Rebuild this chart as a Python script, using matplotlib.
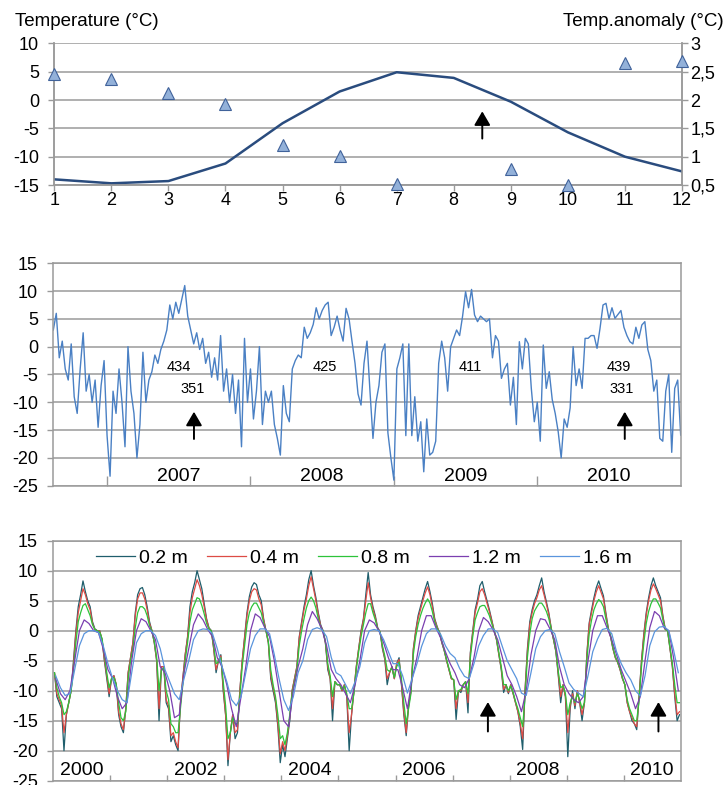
import numpy as np
import matplotlib
matplotlib.use('Agg')
import matplotlib.pyplot as plt
from matplotlib.ticker import FuncFormatter

plt.rcParams['font.family'] = ['Liberation Sans', 'DejaVu Sans']
plt.rcParams['axes.unicode_minus'] = False

# ---------------- data ----------------
# top: monthly mean temperature and temperature anomaly
months = list(range(1, 13))
mean_temp = [-14.0, -14.7, -14.3, -11.2, -4.1, 1.5, 4.9, 3.9, -0.3, -5.7, -10.0, -12.6]
anomaly = [2.46, 2.37, 2.13, 1.93, 1.20, 1.02, 0.52, np.nan, 0.78, 0.50, 2.65, 2.69]

# middle: air temperature, one value per 1/48 year from 2006.625 to 2011.0
air_start = 2006.625
air_temp = [
    # 2006 (from mid-August)
    3, 6, -2, 1, -4, -6, 0.5, -9, -12, -4, 2.5, -8, -5, -10, -6, -14.5, -7, -2.5,
    # 2007
    -16, -23.3, -8, -12, -4, -10, -18, 0, -8, -12, -20, -14, -1, -10, -6, -4.5,
    -1.5, -3, -0.5, 1, 3, 7.5, 5, 8, 6, 8.5, 11, 5.5, 3, 0.5, 2.5, -0.5,
    1.5, -3, -1, -5.5, -2, -6, 2, -8, -4, -10, -5, -12, -6, -18, 1.5, -10,
    # 2008
    -4, -13, -8, 0, -14, -8, -10, -8, -14, -16.5, -19.5, -7, -12, -13.5, -4, -2.5,
    -1.5, -2, 3.5, 1.5, 2.5, 4, 7, 5, 6.5, 7.5, 8, 2, 3.5, 5.5, 3, 1,
    6.9, 5, 0.9, -3, -8.5, -10.5, -3, 1, -8, -16.5, -10, -7, -1, 0.5, -15.5, -20,
    # 2009
    -24, -4, -2, 0.5, -16, 0.5, -16, -9, -17, -13.5, -22.5, -13, -19.5, -19, -17, -3,
    1, -2, -8, 0, 1.5, 3, 2, 5.5, 9.9, 7, 10.3, 5.7, 4.5, 5.5, 5, 4.5,
    5, -2, 2, 1, -5.7, -4, -3, -10.5, -5.5, -14, 0.9, -4, 1.5, 0.5, -7.5, -13.5,
    # 2010
    -10, -17, 0.3, -7.5, -4.5, -9.5, -12, -15.3, -20, -13, -14.5, -11, 0, -7, -4, -7.5,
    1.5, 1.5, 2, 2, -0.3, 3.3, 7.5, 7.8, 5, 7, 5.1, 5.8, 6.5, 3.5, 2, 0.9,
    0.5, 3.5, 1.5, 3.9, 4.5, -0.5, -2.5, -8, -6, -16.5, -17, -8, -5, -19, -7.5, -6,
    -15.9,
]
air_labels_top = [(2007.50, '434'), (2008.515, '425'), (2009.53, '411'), (2010.57, '439')]
air_labels_low = [(2007.60, '351'), (2010.59, '331')]
air_years = [2007, 2008, 2009, 2010]

# bottom: ground temperature 2000-2010, rows = years
# 0.2, 0.4, 0.8 m: 24 values per year ; 1.2, 1.6 m: 12 values per year
depth_02 = [
    [-7, -11, -12, -13, -20, -14, -12, -10, -5, 0, 4, 6, 8.3, 6.5, 5, 4, 1.5, 0.3, 0, 0, -1.5, -5, -8, -11],
    [-8, -7.5, -9, -14, -16, -17, -13, -7, -4.5, -2, 3, 6, 7, 7.2, 6, 4, 1.5, 0, -2, -5, -15, -6, -6, -12],
    [-13, -18.5, -17.5, -19, -20, -12, -8, -4, -1, 4, 6.5, 8, 10, 8.5, 7, 4.5, 2, 0.5, 0, -3, -7, -5, -4, -10],
    [-14, -22.5, -17, -14, -18, -17, -10, -5, -1, 3, 5.7, 7.3, 8, 7.7, 6, 5, 2, 0, -2, -8, -10, -12, -16, -22],
    [-19, -21, -18, -15, -10, -8, -6, -1, 1.5, 4, 6, 8.5, 10, 7.5, 5.5, 3, 1, 0, -2, -6.5, -8, -15, -8.5, -9],
    [-9, -10, -9, -11, -20, -14, -10, -6, -3, 0, 2, 6, 9.7, 6, 4, 2.5, 0.5, -0.2, -3, -4.8, -9, -7, -6, -8],
    [-5.5, -4.5, -9, -14, -17.5, -12.5, -10, -3, 0, 2.5, 4, 5.5, 7, 8.2, 6.5, 4.5, 2, 0.7, -0.3, -2, -3.3, -5, -6.5, -8],
    [-8.2, -14.8, -10, -10.3, -9, -8.5, -13.7, -3.6, 0, 3.5, 5.2, 7.5, 8.2, 6.5, 5, 3.5, 1.8, 0, -1.5, -4, -6.5, -10.3, -9, -10.5],
    [-9, -10.5, -12, -13.5, -16, -19.8, -10, -3, 1.5, 3.5, 5, 6, 7.5, 8.8, 6.5, 4.8, 3, 0.5, -1.5, -3.5, -7.5, -12, -9, -11],
    [-21, -13, -10, -13, -10, -12, -15, -12, -4, 1.3, 3.5, 5.5, 7.2, 8.3, 7, 5.8, 3, 0.5, -1, -3, -4.5, -5.3, -6.5, -8],
    [-9, -12, -13.5, -15, -15.5, -16.5, -11, -5, -0.5, 3, 5.5, 7.5, 8.8, 7.5, 6.5, 5.5, 2.5, 0.3, 0, -3, -6, -11, -15, -14],
]
depth_04 = [
    [-7, -10.5, -11.5, -12.5, -17, -14, -12, -10, -5.5, -0.5, 3, 5, 7, 6, 4.5, 3.5, 1.2, 0.2, 0, 0, -1.5, -4.8, -7.5, -10.5],
    [-8, -7.5, -9, -13.5, -15.5, -16.5, -13, -7, -4.5, -2, 2.5, 5.3, 6.3, 6.3, 5.3, 3.5, 1.2, 0, -2, -5, -13, -6, -6, -11.5],
    [-12.5, -17.5, -17, -18.5, -19.5, -12, -8, -4, -1.2, 3, 5.5, 7, 8.5, 7.5, 6, 4, 1.8, 0.4, 0, -3, -6.5, -5, -4.2, -9.5],
    [-14, -21.5, -17, -14, -17, -16.5, -10, -5, -1.2, 2.5, 5, 6.5, 7, 6.8, 5.3, 4.3, 1.8, 0, -2, -7.5, -9.5, -11.5, -15.5, -20.5],
    [-18.5, -20, -17.5, -14.5, -10, -8, -6, -1.2, 1.2, 3.5, 5.3, 7.5, 9, 7, 5, 2.7, 0.8, 0, -2, -6, -8, -13, -8.5, -9],
    [-9, -10, -9, -11, -17, -14, -10, -6, -3, -0.3, 1.8, 5, 8, 5.5, 3.6, 2.2, 0.4, -0.2, -2.8, -4.6, -8, -7, -6, -8],
    [-5.5, -4.8, -8.8, -13.5, -17, -12.5, -10, -3.2, -0.2, 2, 3.5, 5, 6.3, 7.3, 6, 4, 1.8, 0.6, -0.3, -2, -3.3, -5, -6.5, -8],
    [-8.2, -13, -10, -10, -9, -8.5, -12, -3.8, -0.3, 3, 4.6, 6.5, 7, 6, 4.6, 3.2, 1.6, 0, -1.5, -4, -6.3, -9.8, -9, -10.3],
    [-9, -10.5, -12, -13.5, -15.5, -18, -10, -3.5, 1, 3, 4.5, 5.5, 6.8, 7.5, 6, 4.4, 2.7, 0.4, -1.5, -3.5, -7.3, -11, -9, -11],
    [-17, -12.5, -10.5, -12.5, -10, -12, -14, -12, -4.2, 1, 3, 5, 6.5, 7.5, 6.4, 5.3, 2.7, 0.4, -1, -3, -4.5, -5.3, -6.5, -8],
    [-9, -12, -13.5, -14.5, -15.5, -16, -11, -5.2, -0.8, 2.6, 5, 6.8, 7.8, 7, 6, 5, 2.3, 0.2, 0, -3, -6, -10.5, -14, -13.5],
]
depth_08 = [
    [-7, -9.5, -11, -12, -14, -13.5, -12, -10, -6.5, -2, 1.5, 3, 4.2, 4.5, 3.5, 2.5, 1, 0.2, 0, -0.2, -1.3, -4, -7, -9.5],
    [-8, -7.8, -9, -12, -14.5, -15, -13.5, -8, -5, -3, 0.5, 3, 4, 4, 3.6, 2.5, 0.8, 0, -1.8, -4.5, -10, -6.5, -6.2, -10],
    [-11.5, -15.5, -16, -17, -17, -13, -9, -5, -2, 1.5, 3.5, 4.5, 5.5, 5.3, 4.2, 2.8, 1.2, 0.3, 0, -2.5, -5.5, -5.2, -4.5, -8.5],
    [-12.5, -18, -17, -14.5, -15.5, -15.5, -11, -6, -2.5, 1, 3, 4, 4.6, 4.6, 3.8, 3, 1.3, 0, -1.8, -6.5, -9, -11, -14, -18],
    [-17.5, -19, -17, -14, -10.5, -8.5, -6.5, -2.5, 0, 2, 3.8, 5, 5.6, 5, 3.8, 2, 0.6, 0, -1.8, -5.5, -7.5, -11, -8.5, -9],
    [-9, -9.8, -9.2, -10.5, -13, -13, -10.5, -6.5, -3.5, -1, 1, 3, 4.5, 4.5, 3, 1.8, 0.3, -0.2, -2.5, -4.2, -6.5, -6.8, -6.2, -7.8],
    [-6, -5.2, -8, -12, -15.5, -13, -10.5, -4, -1, 1, 2.5, 3.7, 4.6, 5.3, 4.6, 3.2, 1.4, 0.4, -0.3, -1.8, -3.2, -4.8, -6.3, -7.8],
    [-8.2, -11.5, -10, -9.8, -9, -8.5, -10.5, -4.5, -1, 1.8, 3, 4, 4.2, 4.2, 3.4, 2.5, 1.2, 0, -1.3, -3.7, -6, -9, -9, -10],
    [-9.2, -10.3, -11.8, -13, -14.5, -16, -11, -4.5, -0.5, 2, 3.3, 4, 4.6, 4.6, 4, 3.2, 2, 0.3, -1.3, -3.3, -6.8, -9.5, -9.2, -10.5],
    [-14, -12, -11, -12, -10.5, -11.5, -13, -12, -5, -0.5, 1.8, 3.5, 4.5, 5.2, 4.8, 4, 2, 0.3, -0.8, -2.8, -4.3, -5.2, -6.3, -7.8],
    [-9, -11.5, -13, -14, -15, -15, -11.5, -6, -2, 1.2, 3.2, 4.5, 5.3, 5.3, 4.6, 3.8, 1.8, 0.2, 0, -2.8, -5.5, -9, -12, -12],
]
depth_12 = [
    [-8, -10.5, -11.5, -10, -5, 0, 1.8, 1.2, 0, -0.3, -3, -6.5],
    [-8, -11, -13, -12, -5, 0, 2, 1.5, 0, -1.5, -6, -7],
    [-10, -14.5, -14, -7, -3, 1, 2.8, 1.8, 0.2, -1, -4.5, -6],
    [-9, -13, -16, -11, -6, 0, 2.8, 2.2, 0.5, -1, -5, -10],
    [-15, -16, -10, -6, -3, 1, 3.2, 2, 0.3, -2.5, -6.5, -8],
    [-9, -10.5, -12, -9, -5, 0, 1.8, 1.3, 0, -2, -4.5, -6.5],
    [-6.5, -9.5, -13, -8, -4.5, 0, 2.5, 2.5, 0.5, -1.2, -3.5, -5.5],
    [-7, -9, -9.5, -8, -4.5, 0, 2.2, 1.5, 0.2, -1.5, -4.5, -7.5],
    [-9, -11, -13.5, -10, -4, 0, 2, 1.8, 0.3, -1.5, -6, -9],
    [-10.5, -11.5, -12, -11, -5, 0, 2.5, 2.5, 0.5, -1.5, -4, -6.5],
    [-8.5, -10.5, -13, -11, -5, 0.5, 3.2, 2.5, 0.5, 0, -4.5, -10],
]
depth_16 = [
    [-7.5, -9.5, -10.8, -10.5, -6.5, -2.5, -0.5, 0, 0, -0.3, -2.5, -5.5],
    [-8, -10, -11.5, -12, -7, -2, -0.5, 0, 0, -0.8, -3, -6.5],
    [-8.5, -10.5, -11.5, -8, -5, -1.5, 0, 0.3, 0.2, -0.5, -3, -6],
    [-8.5, -11.5, -12.5, -11, -7, -3, -0.8, 0.3, 0.3, -0.5, -4, -8],
    [-11.5, -13.3, -11, -7, -5, -1.5, 0.2, 0.5, 0.2, -1, -4.5, -7],
    [-7.5, -9, -10.5, -8.5, -6, -2, 0, 0.2, 0, -1.5, -3.5, -5.5],
    [-5.5, -7.5, -10.4, -8, -5.5, -2.6, -0.5, 0.3, 0.3, -0.6, -2.5, -3.8],
    [-4.5, -6.3, -7.6, -8, -5.5, -2.5, -0.8, 0.3, 0.3, -0.3, -2.7, -5],
    [-6.5, -8, -10.4, -10.8, -7, -3, -1, 0, 0.2, -0.5, -3.5, -6],
    [-8.7, -9.8, -10.4, -11, -7.5, -3.5, -1.4, 0.2, 0.4, -0.5, -3.5, -5.5],
    [-7, -8.2, -10, -10.9, -7.5, -2.5, -0.2, 0.6, 0.7, 0, -3.2, -7],
]
depth_labels = ['0.2 m', '0.4 m', '0.8 m', '1.2 m', '1.6 m']
depth_colors = ['#1F5E6C', '#DD4B45', '#2DC33A', '#7B3FB0', '#5A95DD']
ground_years = list(range(2000, 2011))
arrow_years = [2007.62, 2010.61]

# ---------------- style ----------------
grid_c = '#9A9A9A'
fs_tick = 13


def frame(ax, ylo, yhi):
    ax.set_ylim(ylo, yhi)
    ax.set_yticks(range(ylo, yhi + 1, 5))
    ax.grid(axis='y', color=grid_c, lw=1.1)
    ax.set_axisbelow(True)
    for s in ax.spines.values():
        s.set_color(grid_c)
        s.set_linewidth(1.1)
    ax.tick_params(axis='y', labelsize=fs_tick, color=grid_c, length=4, width=1, pad=7)


def up_arrow(ax, x, y0, y1):
    ax.annotate('', xy=(x, y1), xytext=(x, y0),
                arrowprops=dict(arrowstyle='-|>,head_length=0.6,head_width=0.35',
                                color='black', lw=1.4, mutation_scale=14,
                                shrinkA=0, shrinkB=0))


fig = plt.figure(figsize=(7.27, 7.85), dpi=100)

# ---- top panel ----
ax1 = fig.add_axes([0.0747, 0.7643, 0.8634, 0.1805])
frame(ax1, -15, 10)
ax1.spines['top'].set_visible(False)
ax1.plot(months, mean_temp, color='#2A4C7E', lw=1.8, zorder=3)
ax1.set_xlim(1, 12)
ax1.set_xticks(months)
ax1.tick_params(axis='x', labelsize=fs_tick, color=grid_c, length=4, width=1, pad=1)
up_arrow(ax1, 8.5, -6.8, -2.0)

ax1b = ax1.twinx()
ax1b.set_ylim(0.5, 3)
ax1b.set_yticks([0.5, 1, 1.5, 2, 2.5, 3])
ax1b.yaxis.set_major_formatter(FuncFormatter(lambda v, p: f'{v:g}'.replace('.', ',')))
ax1b.tick_params(axis='y', labelsize=fs_tick, color=grid_c, length=4, width=1, pad=2)
for s in ax1b.spines.values():
    s.set_color(grid_c)
    s.set_linewidth(1.1)
ax1b.spines['top'].set_visible(False)
ax1b.plot(months, anomaly, '^', ms=9, mfc='#93B1D9', mec='#40629A', mew=0.8,
          clip_on=False, zorder=4)

fig.text(15 / 727, 1 - 26 / 785, 'Temperature (°C)', fontsize=13.5, ha='left', va='baseline')
fig.text(724 / 727, 1 - 26 / 785, 'Temp.anomaly (°C)', fontsize=13.5, ha='right', va='baseline')

# ---- middle panel ----
ax2 = fig.add_axes([0.0733, 0.3813, 0.8630, 0.2833])
frame(ax2, -25, 15)
t_air = air_start + np.arange(len(air_temp)) / 48
ax2.plot(t_air, air_temp, color='#4A80C4', lw=1.0)
ax2.set_xlim(air_start, 2011.0)
ax2.set_xticks(air_years)
ax2.tick_params(axis='x', direction='in', length=7.5, color=grid_c, width=1, labelbottom=False)
for y in air_years:
    ax2.text(y + 0.5, -23.4, str(y), fontsize=14, ha='center', va='center')
for x, s in air_labels_top:
    ax2.text(x, -3.6, s, fontsize=10.5, ha='center', va='center')
for x, s in air_labels_low:
    ax2.text(x, -7.6, s, fontsize=10.5, ha='center', va='center')
for x in [2007.606, 2010.61]:
    up_arrow(ax2, x, -16.6, -11.7)

# ---- bottom panel ----
ax3 = fig.add_axes([0.0733, 0.0055, 0.8630, 0.3057])
frame(ax3, -25, 15)
t24 = 2000 + (np.arange(24 * len(ground_years)) + 0.5) / 24
t12 = 2000 + (np.arange(12 * len(ground_years)) + 0.5) / 12
series = [(t24, depth_02), (t24, depth_04), (t24, depth_08), (t12, depth_12), (t12, depth_16)]
for (t, rows), lab, c in zip(series, depth_labels, depth_colors):
    ax3.plot(t, np.concatenate(rows), color=c, lw=0.9, label=lab)
ax3.set_xlim(2000, 2011)
ax3.set_xticks(ground_years[1:])
ax3.tick_params(axis='x', direction='in', length=4.5, color=grid_c, width=1, labelbottom=False)
for y in ground_years[::2]:
    ax3.text(y + 0.5, -23.3, str(y), fontsize=14, ha='center', va='center')
for x in arrow_years:
    up_arrow(ax3, x, -16.8, -11.9)
ax3.legend(ncol=5, loc='center left', bbox_to_anchor=(0.068, 0.927), frameon=False,
           fontsize=14, handlelength=2.0, handletextpad=0.2, columnspacing=1.0,
           borderaxespad=0, borderpad=0)

fig.savefig('out.png', dpi=100)
